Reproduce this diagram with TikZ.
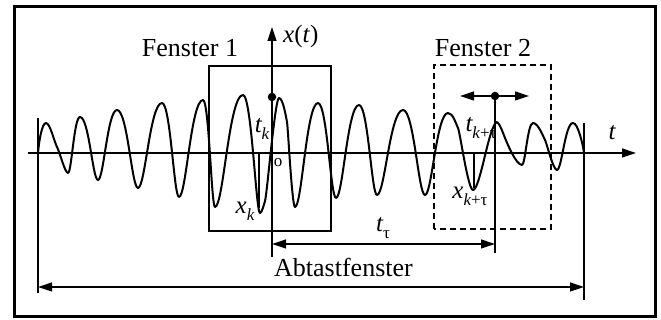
\documentclass[tikz,border=0pt]{standalone}
\usepackage{fontspec}
\setmainfont{Liberation Serif}
\usetikzlibrary{arrows.meta}
\tikzset{
  lbl/.style={font=\fontsize{26}{26}\selectfont, inner sep=0pt},
  ilbl/.style={font=\fontsize{25}{25}\selectfont\itshape, inner sep=0pt},
  thinline/.style={line width=1.2pt},
  arr/.style={line width=1.2pt, -{Triangle[length=14pt,width=9pt]}},
  darr/.style={line width=1.2pt, {Triangle[length=14pt,width=9pt]}-{Triangle[length=14pt,width=9pt]}},
  wave/.style={line width=2pt, line join=round, line cap=round},
  dot/.style={circle, fill=black, inner sep=0pt, minimum size=8.5pt},
}
\newcommand{\sbs}[1]{\raisebox{-0.28em}{\fontsize{17}{17}\selectfont #1}}
\begin{document}
\begin{tikzpicture}[x=1pt,y=1pt]
\useasboundingbox (0,0) rectangle (661,320);
\fill[white] (0,0) rectangle (661,320);
\draw[line width=3pt] (14,3) rectangle (655,313);

% coordinates
\coordinate (axL) at (28,167);
\coordinate (axR) at (636,167);
\coordinate (ayB) at (272,63);
\coordinate (ayT) at (272,293);
\coordinate (vL1) at (38,202);
\coordinate (vL2) at (38,27);
\coordinate (vR1) at (584,197);
\coordinate (vR2) at (584,20);
\coordinate (v21) at (495,224);
\coordinate (v22) at (495,67);
\coordinate (ttL) at (272,76);
\coordinate (ttR) at (495,76);
\coordinate (abL) at (38,33);
\coordinate (abR) at (584,33);
\coordinate (tk1a) at (259,167);
\coordinate (tk1b) at (259,112);
\coordinate (tk2a) at (474,167);
\coordinate (tk2b) at (474,132);
\coordinate (daL) at (460,224);
\coordinate (daR) at (529,224);

% windows
\draw[line width=1.2pt] (209,89) rectangle (331,254);
\draw[line width=1.6pt, dash pattern=on 6pt off 4pt] (434,91) rectangle (551,255);

% axes
\draw[arr] (axL) -- (axR);
\draw[arr] (ayB) -- (ayT);

% vertical markers
\draw[thinline] (vL1) -- (vL2);
\draw[thinline] (vR1) -- (vR2);
\draw[thinline] (v21) -- (v22);
\draw[thinline] (tk1a) -- (tk1b);
\draw[thinline] (tk2a) -- (tk2b);

% dimension arrows
\draw[darr] (ttL) -- (ttR);
\draw[darr] (abL) -- (abR);
\draw[darr] (daL) -- (daR);

% wave
\draw[wave] (38,167)
  .. controls +(1,12) and +(-4,0) .. (46,197)
  .. controls +(4,0) and +(-3,6) .. (57,173)
  .. controls +(3,-6) and +(-3,0) .. (68,147)
  .. controls +(3.6,0) and +(-6,0) .. (80,203)
  .. controls +(9,0) and +(-5.4,0) .. (98,140)
  .. controls +(5.7,0) and +(-9.5,0) .. (117,210)
  .. controls +(10.5,0) and +(-6.3,0) .. (138,132)
  .. controls +(7.2,0) and +(-12,0) .. (162,217)
  .. controls +(8.5,0) and +(-5.1,0) .. (179,123)
  .. controls +(7.2,0) and +(-12,0) .. (203,220)
  .. controls +(6,0) and +(-3.6,0) .. (215,113)
  .. controls +(8.4,0) and +(-14,0) .. (243,225)
  .. controls +(8.5,0) and +(-4,0) .. (260,107)
  .. controls +(2,0) and +(-1,-3) .. (265,119)
  .. controls +(2,6) and +(-4,0) .. (279,222)
  .. controls +(4,0) and +(-1,5) .. (287,198)
  .. controls +(1,-5) and +(-3,0) .. (295,113)
  .. controls +(6.9,0) and +(-11.5,0) .. (318,217)
  .. controls +(9,0) and +(-5.4,0) .. (336,122)
  .. controls +(6.9,0) and +(-11.5,0) .. (359,215)
  .. controls +(9,0) and +(-5.4,0) .. (377,125)
  .. controls +(7.8,0) and +(-13,0) .. (403,210)
  .. controls +(11,0) and +(-6.6,0) .. (425,125)
  .. controls +(6.9,0) and +(-11.5,0) .. (448,207)
  .. controls +(5,0) and +(-2,4) .. (458,192)
  .. controls +(2,-4) and +(-5,0) .. (473,130)
  .. controls +(7.2,0) and +(-8,-2) .. (497,198)
  .. controls +(3,-2) and +(-2,5) .. (505,182)
  .. controls +(2,-5) and +(-6,0) .. (522,155)
  .. controls +(3.3,0) and +(-5.5,0) .. (533,197)
  .. controls +(5,0) and +(-2,4) .. (545,180)
  .. controls +(2,-4) and +(-4,0) .. (557,150)
  .. controls +(4.8,0) and +(-8,0) .. (573,197)
  .. controls +(5,0) and +(-1,8) .. (584,167);

% dots
\node[dot] (d1) at (272,223) {};
\node[dot] (d2) at (495,224) {};

% labels
\node[lbl, anchor=base] (f1) at (190,263) {Fenster 1};
\node[lbl, anchor=base] (f2) at (483,263) {Fenster 2};
\node[lbl, anchor=base] (ab) at (343.5,43) {Abtastfenster};
\node[ilbl, anchor=base west] (xt) at (283,277) {x\textup{(}t\textup{)}};
\node[ilbl] (tk) at (262,191) {t\sbs{\itshape k}};
\node[font=\fontsize{17}{17}\selectfont, inner sep=0pt] (o) at (278,157) {o};
\node[ilbl] (xk) at (245,109) {x\sbs{\itshape k}};
\node[ilbl] (tt) at (383,92) {t\sbs{\upshape τ}};
\node[ilbl] (tkt) at (481,192) {t\sbs{\itshape k\upshape +τ}};
\node[ilbl] (xkt) at (470,124) {x\sbs{\itshape k\upshape +τ}};
\node[ilbl] (t) at (612,187) {t};
\end{tikzpicture}
\end{document}
